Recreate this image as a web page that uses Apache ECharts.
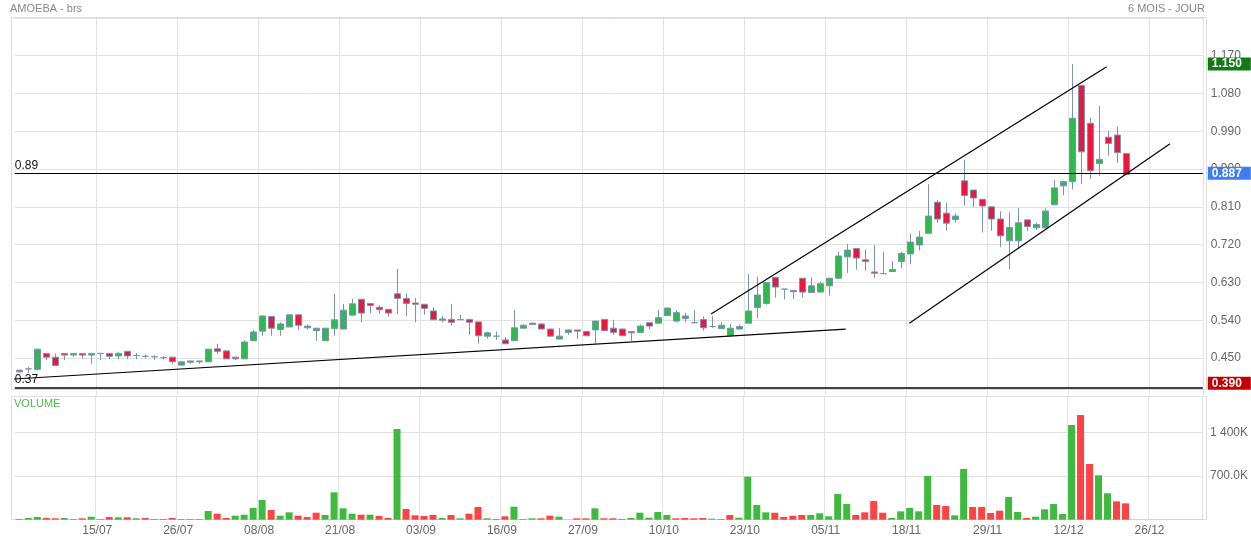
<!DOCTYPE html>
<html><head><meta charset="utf-8">
<script src="https://cdn.jsdelivr.net/npm/echarts@6/dist/echarts.min.js"></script>
<style>html,body{margin:0;padding:0;background:#fff}#c{width:1251px;height:540px}</style>
</head><body><div id="c"></div>
<script>
const dates = ['02/07','03/07','04/07','05/07','08/07','09/07','10/07','11/07','12/07','15/07','16/07','17/07','18/07','19/07','22/07','23/07','24/07','25/07','26/07','29/07','30/07','31/07',
'01/08','02/08','05/08','06/08','07/08','08/08','09/08','12/08','13/08','14/08','15/08','16/08','19/08','20/08','21/08','22/08','23/08','26/08','27/08','28/08','29/08','30/08',
'02/09','03/09','04/09','05/09','06/09','09/09','10/09','11/09','12/09','13/09','16/09','17/09','18/09','19/09','20/09','23/09','24/09','25/09','26/09','27/09','30/09',
'01/10','02/10','03/10','04/10','07/10','08/10','09/10','10/10','11/10','14/10','15/10','16/10','17/10','18/10','21/10','22/10','23/10','24/10','25/10','28/10','29/10','30/10','31/10',
'01/11','04/11','05/11','06/11','07/11','08/11','11/11','12/11','13/11','14/11','15/11','18/11','19/11','20/11','21/11','22/11','25/11','26/11','27/11','28/11','29/11',
'02/12','03/12','04/12','05/12','06/12','09/12','10/12','11/12','12/12','13/12','16/12','17/12','18/12','19/12','20/12',
'23/12','24/12','26/12','27/12','30/12','31/12','02/01','03/01'];

const openP = [0.421,0.424,0.423,0.461,0.452,0.461,0.457,0.461,0.457,0.461,0.461,0.455,0.466,0.456,0.454,0.453,0.451,0.452,0.433,0.440,0.441,0.441,
0.472,0.467,0.452,0.448,0.491,0.514,0.549,0.518,0.524,0.553,0.522,0.515,0.491,0.520,0.519,0.552,0.590,0.580,0.571,0.566,0.603,0.592,
0.581,0.578,0.562,0.540,0.542,0.541,0.542,0.536,0.502,0.502,0.493,0.491,0.521,0.533,0.531,0.519,0.495,0.511,0.517,0.513,0.517,
0.542,0.521,0.519,0.513,0.511,0.534,0.533,0.551,0.538,0.544,0.534,0.542,0.525,0.520,0.503,0.519,0.533,0.570,0.580,0.642,0.614,0.611,0.640,
0.606,0.607,0.622,0.640,0.691,0.711,0.684,0.655,0.651,0.656,0.680,0.698,0.719,0.747,0.821,0.795,0.780,0.872,0.850,0.828,0.810,
0.781,0.729,0.729,0.779,0.760,0.760,0.815,0.860,0.870,1.099,1.009,0.913,0.976,0.981,0.937];
const closeP = [0.417,0.424,0.471,0.452,0.432,0.457,0.461,0.457,0.461,0.461,0.454,0.461,0.455,0.456,0.454,0.453,0.451,0.441,0.441,0.443,0.443,0.471,
0.466,0.448,0.448,0.488,0.512,0.550,0.521,0.531,0.553,0.528,0.526,0.521,0.521,0.541,0.564,0.579,0.557,0.575,0.565,0.557,0.592,0.580,
0.578,0.568,0.541,0.543,0.535,0.542,0.535,0.503,0.510,0.502,0.484,0.522,0.528,0.530,0.519,0.502,0.502,0.517,0.514,0.503,0.538,
0.515,0.511,0.503,0.510,0.526,0.526,0.546,0.569,0.558,0.550,0.534,0.522,0.525,0.528,0.521,0.525,0.562,0.600,0.630,0.619,0.614,0.608,0.607,
0.622,0.627,0.640,0.693,0.707,0.688,0.680,0.652,0.651,0.661,0.699,0.726,0.738,0.788,0.781,0.771,0.788,0.837,0.831,0.812,0.781,
0.741,0.761,0.772,0.763,0.768,0.800,0.855,0.870,1.021,0.941,0.896,0.923,0.961,0.939,0.887];
const lowP = [0.416,0.414,0.423,0.445,0.432,0.445,0.453,0.449,0.436,0.445,0.447,0.447,0.447,0.447,0.449,0.445,0.447,0.436,0.433,0.436,0.436,0.441,
0.460,0.448,0.445,0.448,0.491,0.503,0.503,0.503,0.524,0.517,0.518,0.491,0.491,0.503,0.519,0.552,0.535,0.557,0.555,0.549,0.554,0.550,
0.535,0.553,0.541,0.535,0.527,0.541,0.505,0.485,0.496,0.493,0.484,0.491,0.521,0.528,0.519,0.502,0.495,0.505,0.495,0.503,0.484,
0.515,0.505,0.503,0.491,0.511,0.519,0.533,0.551,0.535,0.535,0.534,0.515,0.521,0.520,0.503,0.517,0.533,0.545,0.577,0.594,0.590,0.590,0.594,
0.606,0.607,0.599,0.640,0.653,0.660,0.658,0.640,0.651,0.656,0.664,0.673,0.706,0.747,0.772,0.753,0.773,0.813,0.809,0.749,0.753,
0.714,0.661,0.711,0.753,0.755,0.757,0.815,0.838,0.852,0.864,0.876,0.884,0.932,0.915,0.887];
const highP = [0.422,0.429,0.471,0.461,0.461,0.461,0.461,0.461,0.461,0.461,0.461,0.465,0.466,0.462,0.458,0.457,0.455,0.452,0.441,0.443,0.443,0.471,
0.484,0.467,0.452,0.493,0.517,0.552,0.549,0.535,0.553,0.553,0.530,0.521,0.521,0.603,0.579,0.591,0.590,0.580,0.576,0.566,0.662,0.603,
0.593,0.578,0.571,0.550,0.579,0.553,0.542,0.536,0.513,0.513,0.500,0.564,0.530,0.534,0.533,0.519,0.521,0.517,0.517,0.513,0.538,
0.542,0.541,0.519,0.513,0.530,0.534,0.564,0.569,0.564,0.558,0.564,0.549,0.549,0.535,0.531,0.530,0.650,0.644,0.630,0.642,0.614,0.611,0.640,
0.642,0.632,0.640,0.703,0.722,0.711,0.709,0.719,0.703,0.681,0.703,0.747,0.753,0.864,0.826,0.820,0.795,0.922,0.850,0.828,0.810,
0.799,0.797,0.807,0.779,0.772,0.806,0.874,0.870,1.150,1.099,1.022,1.050,0.991,1.001,0.937];

// volume in thousands, direction: 1 = up (green), -1 = down (red)
const volumeK = [10,27,43,27,22,27,11,22,48,11,43,38,38,22,27,11,11,27,11,11,11,139,
96,27,64,80,187,315,155,64,118,64,43,112,75,438,182,96,80,80,59,27,1453,171,
70,59,75,27,75,22,96,203,22,11,54,208,11,22,22,64,48,0,22,22,182,
22,22,11,27,112,32,123,75,22,27,22,27,16,11,75,32,689,235,118,112,43,64,75,
75,102,54,412,251,75,118,299,112,27,134,187,134,700,235,219,70,812,203,203,107,
144,363,123,27,48,166,251,91,1517,1677,892,711,423,294,262];
const volumeDir = [-1,1,1,-1,-1,1,1,-1,1,1,-1,1,-1,1,-1,-1,-1,-1,1,1,1,1,
-1,-1,1,1,1,1,-1,1,1,-1,-1,-1,1,1,1,1,-1,1,-1,-1,1,-1,
-1,-1,-1,1,-1,1,-1,-1,1,-1,-1,1,1,1,-1,-1,1,1,-1,-1,1,
-1,-1,-1,1,1,1,1,1,-1,-1,-1,-1,1,1,-1,1,1,1,1,-1,-1,-1,-1,
1,1,1,1,1,-1,-1,-1,-1,1,1,1,1,1,-1,-1,1,1,-1,-1,-1,
-1,1,1,-1,1,1,1,1,1,-1,-1,1,1,-1,-1];

const priceTicks = {min: 0.36, max: 1.26, step: 0.09};
const volTicks = {min: 0, max: 1970, step: 700};
const levelLines = {resistance: 0.887, support: 0.375};
const markers = {high: 1.150, last: 0.887, low: 0.390};
// trend lines: [index, price] pairs
const trendSupport = [[-1.03, 0.3995], [91.82, 0.5186]];
const channelUpper = [[76.86, 0.5550], [120.82, 1.1438]];
const channelLower = [[98.89, 0.5326], [127.86, 0.9600]];

const candleData = openP.map((o, i) => [o, closeP[i], lowP[i], highP[i]]);
const volData = volumeK.map((v, i) => ({value: v, itemStyle: {color: volumeDir[i] > 0 ? '#3fba3f' : '#ff4343'}}));

const GRID_L = 14.8, GRID_R = 1251 - 1202.8;
const gridColor = '#e2e2e2';
const showIdx = (idx) => idx >= 9 && (idx - 9) % 9 === 0;
const FONT = 'Liberation Sans, Arial, sans-serif';

const chart = echarts.init(document.getElementById('c'), null, {renderer: 'canvas'});

function tagLabel(text, bg) {
  return {show: true, position: 'end', distance: 5, formatter: text, backgroundColor: bg, color: '#fff',
    fontWeight: 'bold', fontSize: 12, fontFamily: FONT, padding: [1, 3, 0, 4], width: 36, align: 'left'};
}

const option = {
  animation: false,
  backgroundColor: '#fff',
  textStyle: {fontFamily: FONT},
  grid: [
    {left: GRID_L, right: GRID_R, top: 17.9, height: 377.9},
    {left: GRID_L, right: GRID_R, top: 396.7, height: 123}
  ],
  xAxis: [
    {type: 'category', gridIndex: 0, data: dates, boundaryGap: true,
     axisLine: {show: false}, axisTick: {show: false}, axisLabel: {show: false},
     splitLine: {show: true, interval: showIdx, lineStyle: {color: gridColor}}},
    {type: 'category', gridIndex: 1, data: dates, boundaryGap: true,
     axisLine: {show: true, lineStyle: {color: '#d6d6d6'}}, axisTick: {show: false},
     axisLabel: {show: true, interval: showIdx, color: '#666', fontSize: 12, fontFamily: FONT, margin: 5, padding: [0, 6, 0, 0]},
     splitLine: {show: true, interval: showIdx, lineStyle: {color: gridColor}}},
    {type: 'value', gridIndex: 0, min: -0.5, max: dates.length - 0.5, show: false}
  ],
  yAxis: [
    {type: 'value', gridIndex: 0, position: 'right', min: priceTicks.min, max: priceTicks.max, interval: priceTicks.step,
     axisLine: {show: false}, axisTick: {show: false},
     axisLabel: {color: '#666', fontSize: 12, fontFamily: FONT, margin: 8, showMinLabel: false, showMaxLabel: false,
       padding: [0, 0, 5, 0], formatter: v => v.toFixed(3)},
     splitLine: {show: true, lineStyle: {color: gridColor}}},
    {type: 'value', gridIndex: 1, position: 'right', min: volTicks.min, max: volTicks.max, interval: volTicks.step,
     axisLine: {show: false}, axisTick: {show: false},
     axisLabel: {color: '#666', fontSize: 12, fontFamily: FONT, margin: 8, showMinLabel: false, showMaxLabel: false,
       padding: [0, 0, 3, 0],
       formatter: v => v === 1400 ? '1 400K' : (v === 700 ? '700.0K' : '')},
     splitLine: {show: true, lineStyle: {color: gridColor}}}
  ],
  series: [
    {type: 'candlestick', xAxisIndex: 0, yAxisIndex: 0, data: candleData, barWidth: 7,
     itemStyle: {color: '#2fb94f', color0: '#e8183f', borderColor: '#7893b3', borderColor0: '#7893b3', borderColorDoji: '#7893b3', borderWidth: 1},
     markLine: {
       silent: true, symbol: 'none', animation: false,
       data: [
         {yAxis: levelLines.resistance, lineStyle: {color: '#000', width: 1, type: 'solid'},
          label: {show: true, position: 'insideStartTop', formatter: '0.89', color: '#111', fontSize: 12, fontFamily: FONT, distance: [0, 2]}},
         {yAxis: levelLines.support, lineStyle: {color: '#000', width: 1.5, type: 'solid'},
          label: {show: true, position: 'insideStartTop', formatter: '0.37', color: '#111', fontSize: 12, fontFamily: FONT, distance: [0, 2]}},
         {yAxis: markers.last, lineStyle: {color: 'rgba(0,0,0,0)', width: 0}, label: tagLabel('0.887', '#3e7ef4')},
         {yAxis: markers.high, lineStyle: {color: 'rgba(0,0,0,0)', width: 0}, label: tagLabel('1.150', '#137a13')},
         {yAxis: markers.low, lineStyle: {color: 'rgba(0,0,0,0)', width: 0}, label: tagLabel('0.390', '#c40000')}
       ]
     }},
    {type: 'line', xAxisIndex: 2, yAxisIndex: 0, data: trendSupport, symbol: 'none', silent: true, lineStyle: {color: '#000', width: 1.2}},
    {type: 'line', xAxisIndex: 2, yAxisIndex: 0, data: channelUpper, symbol: 'none', silent: true, lineStyle: {color: '#000', width: 1.2}},
    {type: 'line', xAxisIndex: 2, yAxisIndex: 0, data: channelLower, symbol: 'none', silent: true, lineStyle: {color: '#000', width: 1.2}},
    {type: 'bar', xAxisIndex: 1, yAxisIndex: 1, data: volData, barWidth: 7}
  ],
  graphic: [
    {type: 'text', left: 10, top: 3, style: {text: 'AMOEBA - brs', fill: '#888', font: '11px ' + FONT}},
    {type: 'text', right: 46, top: 3, style: {text: '6 MOIS - JOUR', fill: '#888', font: '11px ' + FONT}},
    {type: 'text', left: 14, top: 398, style: {text: 'VOLUME', fill: '#4cbb4c', font: '11px ' + FONT}},
    {type: 'rect', shape: {x: 11.5, y: 17.5, width: 1195, height: 372}, style: {fill: null, stroke: '#dcdcdc', lineWidth: 1}, silent: true, z: -1},
    {type: 'rect', shape: {x: 11.5, y: 396.5, width: 1195, height: 123}, style: {fill: null, stroke: '#dcdcdc', lineWidth: 1}, silent: true, z: -1}
  ]
};
chart.setOption(option);
</script>
</body></html>
